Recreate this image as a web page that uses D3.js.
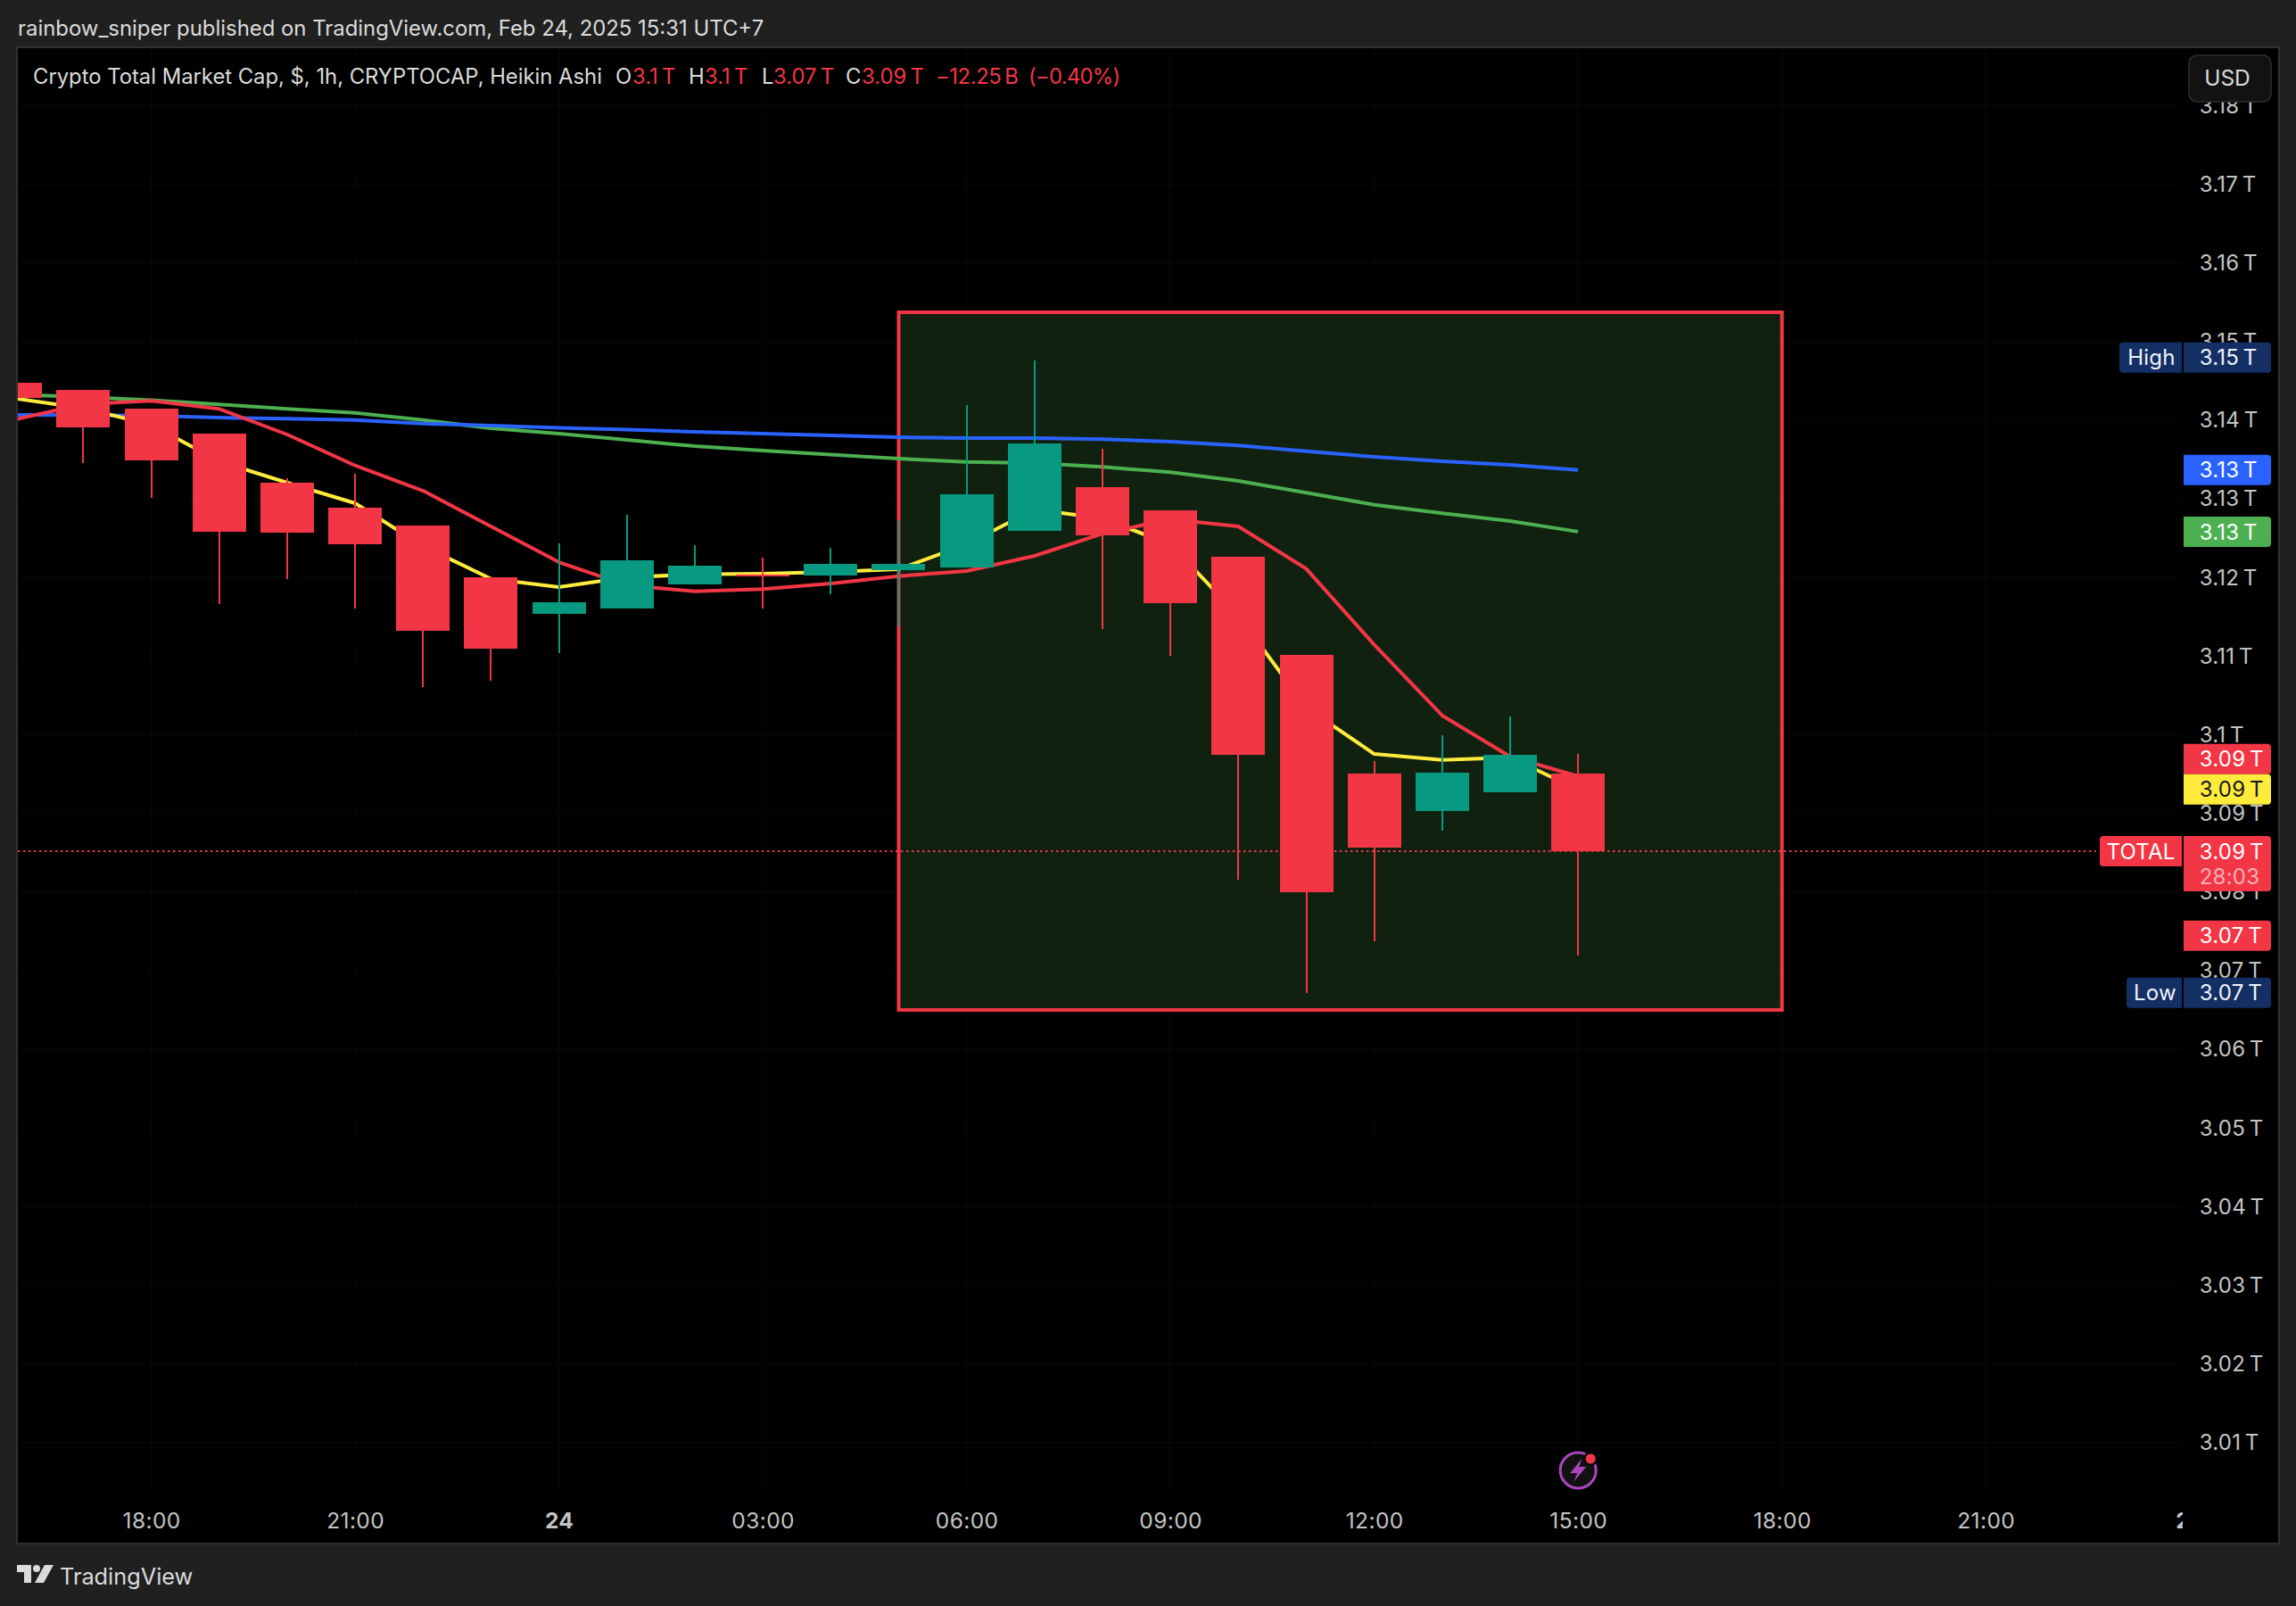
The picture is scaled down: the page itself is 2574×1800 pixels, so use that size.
<!DOCTYPE html>
<html><head><meta charset="utf-8">
<script src="https://cdn.jsdelivr.net/npm/d3@7/dist/d3.min.js"></script>
<style>
html,body{margin:0;padding:0;background:#202020;}
svg{display:block;font-family:Inter,"Noto Sans",sans-serif;}
.axis path,.axis line{display:none;}
</style></head><body>
<svg id="c" width="2574" height="1800"></svg>
<script>
// ---------- data ----------
const hours = [-2,-1,0,1,2,3,4,5,6,7,8,9,10,11,12,13,14,15,16,17,18,19,20,21]; // hours after Feb 23 18:00
const open  = [3.14477,3.14387,3.14148,3.13831,3.13207,3.12889,3.12662,3.12004,3.11539,3.11607,3.11914,3.12044,3.12027,3.12095,3.12129,3.12594,3.13150,3.12855,3.12265,3.11018,3.09509,3.09032,3.09271,3.09509];
const high  = [3.14477,3.14387,3.14148,3.13831,3.13264,3.13320,3.12662,3.12004,3.12436,3.12799,3.12413,3.12254,3.12379,3.12730,3.14194,3.14761,3.13638,3.12855,3.12265,3.11018,3.09668,3.09997,3.10235,3.09758];
const low   = [3.14288,3.13456,3.13017,3.11668,3.11982,3.11611,3.10609,3.10689,3.11040,3.11607,3.11914,3.11607,3.11789,3.11384,3.12129,3.12594,3.11346,3.11006,3.08159,3.06718,3.07376,3.08783,3.09271,3.07195];
const close = [3.14288,3.13910,3.13490,3.12586,3.12572,3.12424,3.11327,3.11097,3.11687,3.12220,3.12152,3.12027,3.12175,3.12175,3.13059,3.13706,3.12538,3.11675,3.09747,3.08000,3.08567,3.09520,3.09747,3.08522];
const emaYellow = [3.14279,3.14154,3.13944,3.13479,3.13207,3.12946,3.12401,3.11985,3.11880,3.12004,3.12042,3.12050,3.12073,3.12107,3.12424,3.12867,3.12753,3.12424,3.11517,3.10348,3.09758,3.09683,3.09713,3.09305];
const emaRed    = [3.14012,3.14205,3.14247,3.14145,3.13820,3.13426,3.13105,3.12651,3.12197,3.11902,3.11826,3.11854,3.11925,3.12019,3.12084,3.12277,3.12560,3.12742,3.12651,3.12112,3.11147,3.10247,3.09724,3.09475];
const emaGreen  = [3.14330,3.14296,3.14258,3.14202,3.14145,3.14095,3.14004,3.13899,3.13831,3.13751,3.13672,3.13615,3.13564,3.13513,3.13471,3.13456,3.13408,3.13340,3.13230,3.13079,3.12927,3.12818,3.12719,3.12585];
const emaBlue   = [3.14069,3.14066,3.14058,3.14035,3.14020,3.14004,3.13960,3.13933,3.13905,3.13882,3.13854,3.13831,3.13808,3.13785,3.13774,3.13774,3.13759,3.13729,3.13680,3.13607,3.13536,3.13479,3.13434,3.13369];
const priceTicks = [3.18,3.17,3.16,3.15,3.14,3.13,3.12,3.11,3.10,3.09,3.08,3.07,3.06,3.05,3.04,3.03,3.02,3.01];
const timeTicks  = [0,3,6,9,12,15,18,21,24,27,30];
const timeLabels = ["18:00","21:00","24","03:00","06:00","09:00","12:00","15:00","18:00","21:00","25"];
const boldTimeLabels = ["24","25"];
const boxHours  = [11,24];
const boxPrices = [3.15374,3.06503];
const lastPrice = 3.08522;
const tagValues = [3.14798,3.13369,3.12583,3.09694,3.09308,3.07448,3.06722];
const tagTexts  = ["3.15\u2009T","3.13\u2009T","3.13\u2009T","3.09\u2009T","3.09\u2009T","3.07\u2009T","3.07\u2009T"];
const tagFills  = ["#132f63","#2962ff","#4caf50","#f23645","#ffeb3b","#f23645","#132f63"];
const tagInk    = ["#f0f3fa","#ffffff","#ffffff","#ffffff","#131722","#ffffff","#f0f3fa"];
const sideNames = ["High","Low"];
const sideValues= [3.14798,3.06722];
const headerText = "rainbow_sniper published on TradingView.com, Feb 24, 2025 15:31 UTC+7";
const legendParts = ["Crypto Total Market Cap, $, 1h, CRYPTOCAP, Heikin Ashi","O","3.1\u2009T","H","3.1\u2009T","L","3.07\u2009T","C","3.09\u2009T","\u221212.25\u2009B","(\u22120.40%)"];
const countdown = "28:03";

// ---------- layout ----------
const RED="#f23645",TEAL="#089981";
const pane={l:20,t:54,r:2554,b:1729}, axisX=2447, timeTop=1673;
const svg=d3.select("#c");
const x=d3.scaleLinear().domain([0,24]).range([169.6,1997.7]);
const y=d3.scaleLinear().domain([3.17,3.01]).range([206.7,1617]);
const fmt=v=>(+v.toFixed(2)).toString()+"\u2009T";
const LS="0.25px";

svg.append("text").attr("x",20).attr("y",32).attr("dy",".35em").attr("font-size",23.9).attr("fill","#dbdbdb").text(headerText);
svg.append("rect").attr("x",pane.l-1).attr("y",pane.t-1).attr("width",pane.r-pane.l+2).attr("height",pane.b-pane.t+2).attr("fill","#000").attr("stroke","#303030").attr("stroke-width",2);

const defs=svg.append("defs");
defs.append("clipPath").attr("id","plot").append("rect").attr("x",pane.l).attr("y",pane.t).attr("width",axisX-pane.l).attr("height",timeTop-pane.t);
defs.append("clipPath").attr("id","time").append("rect").attr("x",pane.l).attr("y",timeTop).attr("width",axisX-pane.l).attr("height",pane.b-timeTop);

const plot=svg.append("g").attr("clip-path","url(#plot)");
// grid
plot.append("g").selectAll("line").data(priceTicks).join("line").attr("x1",pane.l).attr("x2",axisX).attr("y1",d=>y(d)).attr("y2",d=>y(d)).attr("stroke","#ffffff").attr("stroke-opacity",.018).attr("stroke-width",2);
plot.append("g").selectAll("line").data(timeTicks).join("line").attr("x1",d=>x(d)).attr("x2",d=>x(d)).attr("y1",pane.t).attr("y2",timeTop).attr("stroke","#ffffff").attr("stroke-opacity",.018).attr("stroke-width",2);
// box
plot.append("rect").attr("x",x(boxHours[0])).attr("y",y(boxPrices[0])).attr("width",x(boxHours[1])-x(boxHours[0])).attr("height",y(boxPrices[1])-y(boxPrices[0])).attr("fill","#122211").attr("fill-opacity",.97).attr("stroke",RED).attr("stroke-width",4);
// last price line
svg.append("line").attr("x1",pane.l).attr("x2",2350).attr("y1",y(lastPrice)).attr("y2",y(lastPrice)).attr("stroke",RED).attr("stroke-width",2).attr("stroke-dasharray","2.4 3.6");
// emas
const line=d3.line().x((d,i)=>x(hours[i])).y(d=>y(d));
[[emaGreen,"#4caf50"],[emaBlue,"#2962ff"],[emaYellow,"#ffeb3b"],[emaRed,RED]].forEach(([s,c])=>{
  plot.append("path").attr("d",line(s)).attr("fill","none").attr("stroke",c).attr("stroke-width",4).attr("stroke-linejoin","round");
});
// candles
const candles=hours.map((h,i)=>({h,o:open[i],hi:high[i],lo:low[i],c:close[i]}));
const col=d=>d.c>=d.o?TEAL:RED;
const cg=plot.append("g").attr("shape-rendering","crispEdges");
cg.selectAll("rect.w").data(candles).join("rect").attr("class","w").attr("x",d=>Math.round(x(d.h))-1).attr("width",2.4)
  .attr("y",d=>y(d.hi)).attr("height",d=>y(d.lo)-y(d.hi)).attr("fill",col);
cg.selectAll("rect.b").data(candles).join("rect").attr("class","b").attr("x",d=>Math.round(x(d.h)-30)).attr("width",60)
  .attr("y",d=>y(Math.max(d.o,d.c))).attr("height",d=>Math.max(2,Math.abs(y(d.o)-y(d.c)))).attr("fill",col);

// price axis
const yAxis=svg.append("g").attr("class","axis").attr("transform",`translate(2465.7,0)`)
  .call(d3.axisRight(y).tickValues(priceTicks).tickSize(0).tickPadding(0).tickFormat(fmt));
yAxis.selectAll("text").attr("font-size",24).attr("fill","#c4c4c4").attr("font-family","Inter").style("letter-spacing",LS);

// time axis
const xAxis=svg.append("g").attr("class","axis").attr("clip-path","url(#time)").append("g").attr("transform",`translate(0,1704)`)
  .call(d3.axisBottom(x).tickValues(timeTicks).tickSize(0).tickPadding(0).tickFormat((d,i)=>timeLabels[i]));
xAxis.selectAll("text").attr("y",0).attr("dy",".35em").attr("font-size",24.5).attr("fill","#c4c4c4").attr("font-family","Inter").style("letter-spacing","0.4px")
  .attr("font-weight",(d,i)=>boldTimeLabels.includes(timeLabels[i])?700:400);

// USD button
svg.append("rect").attr("x",2454).attr("y",62).attr("width",92).attr("height",52).attr("rx",9).attr("fill","#121212").attr("stroke","#2e2e2e").attr("stroke-width",1.5);
svg.append("text").attr("x",2497).attr("y",87).attr("dy",".36em").attr("text-anchor","middle").attr("font-size",24.5).attr("fill","#dbdbdb").text("USD");

// price tags
const tagPath=(x0,w,yc,h,r)=>`M${x0},${yc-h/2}H${x0+w-r}Q${x0+w},${yc-h/2} ${x0+w},${yc-h/2+r}V${yc+h/2-r}Q${x0+w},${yc+h/2} ${x0+w-r},${yc+h/2}H${x0}Z`;
const leftPath=(x1,w,yc,h,r)=>`M${x1},${yc-h/2}H${x1-w+r}Q${x1-w},${yc-h/2} ${x1-w},${yc-h/2+r}V${yc+h/2-r}Q${x1-w},${yc+h/2} ${x1-w+r},${yc+h/2}H${x1}Z`;
const tags=svg.append("g").style("letter-spacing",LS);
tagValues.forEach((v,i)=>{
  tags.append("path").attr("d",tagPath(2448,98,y(v),34,4)).attr("fill",tagFills[i]);
  tags.append("text").attr("x",2465.7).attr("y",y(v)).attr("dy",".36em").attr("font-size",24).attr("fill",tagInk[i]).text(tagTexts[i]);
});
// current price tag with countdown
const ly=y(lastPrice);
tags.append("path").attr("d",`M2448,${ly-17}H2542Q2546,${ly-17} 2546,${ly-13}V${ly+41}Q2546,${ly+45} 2542,${ly+45}H2448Z`).attr("fill",RED);
tags.append("text").attr("x",2465.7).attr("y",ly).attr("dy",".36em").attr("font-size",24).attr("fill","#fff").text(fmt(lastPrice));
tags.append("text").attr("x",2465.7).attr("y",ly+28).attr("dy",".36em").attr("font-size",24).attr("fill","#fff").attr("fill-opacity",.6).text(countdown);
tags.append("path").attr("d",leftPath(2446,92,ly,34,4)).attr("fill",RED);
tags.append("text").attr("x",2400).attr("y",ly).attr("dy",".36em").attr("text-anchor","middle").attr("font-size",24).attr("fill","#fff").text("TOTAL");
// High / Low side tags
[70,62].forEach((w,i)=>{
  tags.append("path").attr("d",leftPath(2446,w,y(sideValues[i]),34,4)).attr("fill","#132f63");
  tags.append("text").attr("x",2446-w/2+1).attr("y",y(sideValues[i])).attr("dy",".36em").attr("text-anchor","middle").attr("font-size",24).attr("fill","#f0f3fa").text(sideNames[i]);
});

// legend
const legendX=[37,690,709,772,790,854,867,948,966,1049,1153];
const legendTrack=[0,0,0,0,0,0,0,0,0,-0.4,-0.7];
const legendFill=(i)=>(i===0||i===1||i===3||i===5||i===7)?"#dbdbdb":RED;
const legendG=svg.append("g");
legendParts.forEach((t,i)=>{
  legendG.append("text").attr("x",legendX[i]).attr("y",86).attr("dy",".35em").attr("font-size",23.8).attr("fill",legendFill(i)).style("letter-spacing",legendTrack[i]+"px").text(t);
});

// alert icon
const ic=svg.append("g").attr("transform",`translate(${x(21)},1648)`);
ic.append("circle").attr("r",20).attr("fill","#111").attr("stroke","#ab47bc").attr("stroke-width",3);
ic.append("path").attr("d","M4,-13L-9,3H-1L-5,13L9,-4H1Z").attr("fill","#ab47bc");
ic.append("circle").attr("cx",14).attr("cy",-13).attr("r",8).attr("fill","#0a0a0a");
ic.append("circle").attr("cx",14).attr("cy",-13).attr("r",5.5).attr("fill",RED);

// footer logo
const lg=svg.append("g").attr("transform","translate(19,1754)").attr("fill","#dbdbdb");
lg.append("path").attr("d","M0,0H16V20H8V8H0Z");
lg.append("circle").attr("cx",22).attr("cy",4).attr("r",4);
lg.append("path").attr("d","M31,0H41L30,20H20Z");
svg.append("text").attr("x",67).attr("y",1767).attr("dy",".35em").attr("font-size",25.3).attr("font-weight",400).attr("fill","#dbdbdb").text("TradingView");
</script>
</body></html>
